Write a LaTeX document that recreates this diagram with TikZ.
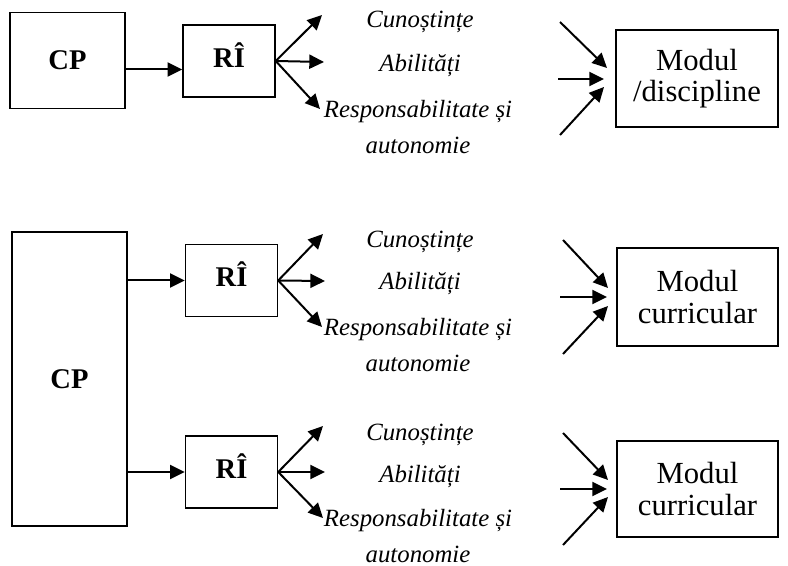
\documentclass[tikz,border=0pt]{standalone}
\usepackage{fontspec}
\setmainfont{Liberation Serif}
\usetikzlibrary{arrows.meta}

\newdimen\px \px=0.75pt
\newcommand{\fs}{\fontsize{18.6}{27}\selectfont}
\newcommand{\fsb}{\fontsize{21.4}{25}\selectfont}
\newcommand{\fsm}{\fontsize{23}{23.5}\selectfont}

\tikzset{
  box/.style={draw, line width=1.1pt, inner sep=0pt, align=center},
  cpbox/.style={box, minimum width=115\px, font=\fsb\bfseries},
  ribox/.style={box, minimum width=92\px, minimum height=72\px, text depth=12\px, font=\fsb\bfseries},
  modbox/.style={box, minimum width=162\px, minimum height=97\px, font=\fsm},
  lbl/.style={align=center, font=\fs\itshape},
  arr/.style={-{Triangle[length=11pt,width=10.5pt]}, line width=1.5pt},
}

\begin{document}
\begin{tikzpicture}[x=0.75pt,y=-0.75pt]
  \useasboundingbox (0,0) rectangle (788,566);

  % first row
  \node[cpbox, minimum height=96\px] (cp1) at (67.5,60.5) {CP};
  \node[ribox] (ri1) at (229,61) {RÎ};
  \draw[arr] ([yshift=-9\px]cp1.east) -- ([yshift=-9\px]cp1.east -| ri1.west);

  \coordinate (k1) at (322,15);
  \coordinate (a1) at (324,62);
  \coordinate (r1) at (320,109);
  \draw[arr] (ri1.east) -- (k1);
  \draw[arr] (ri1.east) -- (a1);
  \draw[arr] (ri1.east) -- (r1);

  \node[lbl] (kt1) at (420,22) {Cunoștințe};
  \node[lbl] (ab1) at (420,66) {Abilități};
  \node[lbl] (rs1) at (418,127) {Responsabilitate și\\autonomie};

  \node[modbox] (md1) at (697,78.5) {Modul\\/discipline};
  \coordinate (ka1) at (560,22);  \coordinate (kb1) at (607,68);
  \coordinate (aa1) at (558,79);  \coordinate (ab1e) at (604,79);
  \coordinate (ra1) at (560,135); \coordinate (rb1) at (604,87);
  \draw[arr] (ka1) -- (kb1);
  \draw[arr] (aa1) -- (ab1e);
  \draw[arr] (ra1) -- (rb1);

  % second part, one CP for two modules
  \node[cpbox, minimum height=294\px] (cp2) at (69.5,379) {CP};

  \node[ribox] (ri2) at (231.5,280.5) {RÎ};
  \draw[arr] (cp2.east |- ri2.west) -- (ri2.west);

  \coordinate (k2) at (323,234);
  \coordinate (a2) at (325,281);
  \coordinate (r2) at (322,327);
  \draw[arr] (ri2.east) -- (k2);
  \draw[arr] (ri2.east) -- (a2);
  \draw[arr] (ri2.east) -- (r2);

  \node[lbl] (kt2) at (420,242) {Cunoștințe};
  \node[lbl] (ab2) at (420,284) {Abilități};
  \node[lbl] (rs2) at (418,345) {Responsabilitate și\\autonomie};

  \node[modbox, minimum width=161\px, minimum height=98\px] (md2) at (697.5,297) {Modul\\curricular};
  \coordinate (ka2) at (563,240); \coordinate (kb2) at (608,288);
  \coordinate (aa2) at (560,297); \coordinate (ab2e) at (607,297);
  \coordinate (ra2) at (563,354); \coordinate (rb2) at (608,306);
  \draw[arr] (ka2) -- (kb2);
  \draw[arr] (aa2) -- (ab2e);
  \draw[arr] (ra2) -- (rb2);

  \node[ribox] (ri3) at (231.5,472) {RÎ};
  \draw[arr] (cp2.east |- ri3.west) -- (ri3.west);

  \coordinate (k3) at (323,426);
  \coordinate (a3) at (325,472);
  \coordinate (r3) at (323,518);
  \draw[arr] (ri3.east) -- (k3);
  \draw[arr] (ri3.east) -- (a3);
  \draw[arr] (ri3.east) -- (r3);

  \node[lbl] (kt3) at (420,435) {Cunoștințe};
  \node[lbl] (ab3) at (420,477) {Abilități};
  \node[lbl] (rs3) at (418,536) {Responsabilitate și\\autonomie};

  \node[modbox, minimum width=161\px, minimum height=96\px] (md3) at (697.5,489) {Modul\\curricular};
  \coordinate (ka3) at (563,433); \coordinate (kb3) at (608,480);
  \coordinate (aa3) at (560,489); \coordinate (ab3e) at (607,489);
  \coordinate (ra3) at (563,545); \coordinate (rb3) at (608,497);
  \draw[arr] (ka3) -- (kb3);
  \draw[arr] (aa3) -- (ab3e);
  \draw[arr] (ra3) -- (rb3);
\end{tikzpicture}
\end{document}
